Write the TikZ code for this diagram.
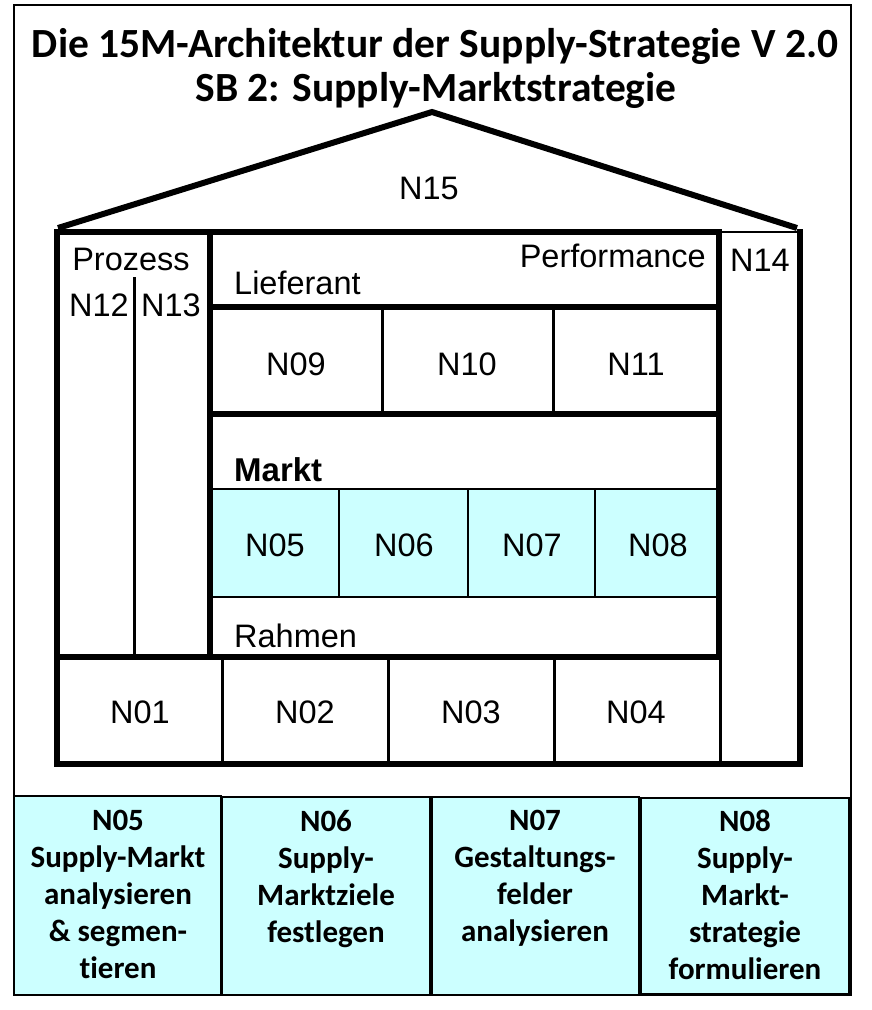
\documentclass[tikz,border=0pt]{standalone}
\usepackage{fontspec}
\setmainfont{Liberation Sans}
\newfontfamily\titlefont[Ligatures=NoCommon]{Carlito}
\definecolor{hellcyan}{HTML}{CCFFFF}
\tikzset{
    wall/.style={line width=6pt, line cap=rect},
    fuge/.style={line width=3pt},
    feinfuge/.style={line width=1.5pt},
    feld/.style={font=\fontsize{32.5}{38}\selectfont, inner sep=0pt},
    kachel/.style={draw, line width=2.5pt, fill=hellcyan},
    kacheltext/.style={font=\titlefont\bfseries\fontsize{31}{37}\selectfont, align=center, anchor=north, inner sep=0pt}
}

\begin{document}
\begin{tikzpicture}[x=1pt, y=-1pt]
    \useasboundingbox (0,0) rectangle (871,1010);
    \draw[line width=2pt] (14,5) rectangle (851,995);

    % Titel
    \node[font=\titlefont\bfseries\fontsize{41.5}{46}\selectfont, inner sep=0pt] (titel1) at (435,46) {Die 15M-Architektur der Supply-Strategie V 2.0};
    \node[font=\titlefont\bfseries\fontsize{41.5}{46}\selectfont, inner sep=0pt] (titel2) at (436,90) {SB 2: Supply-Marktstrategie};

    % Dach
    \draw[line width=6pt, line join=miter] (58,228) -- (432,112) -- (797,228);
    \node[feld] (n15) at (429,188) {N15};

    % Markt-Reihe
    \filldraw[fill=hellcyan, feinfuge] (210,489) rectangle (719,597);
    \foreach \x in {339, 468, 595}
    {
        \draw[feinfuge] (\x,489) -- (\x,597);
    }

    % Haus
    \draw[wall] (57,232) -- (57,764) -- (800,764) -- (800,232);
    \draw[wall] (57,232) -- (719,232) -- (719,657);
    \draw[line width=2pt] (719,232) -- (800,232);
    \draw[wall] (210,232) -- (210,657);
    \draw[wall] (210,307) -- (719,307);
    \draw[wall] (210,414) -- (719,414);
    \draw[wall] (57,657) -- (719,657);
    \draw[fuge] (134,277) -- (134,657);
    \draw[fuge] (720,657) -- (720,764);
    \foreach \x in {382, 553}
    {
        \draw[fuge] (\x,307) -- (\x,414);
    }
    \foreach \x in {222, 388, 554}
    {
        \draw[fuge] (\x,657) -- (\x,764);
    }

    \node[feld] (prozess) at (131,259) {Prozess};
    \node[feld] (n12) at (99,305) {N12};
    \node[feld] (n13) at (171,305) {N13};
    \node[feld, anchor=east] (performance) at (706,256) {Performance};
    \node[feld, anchor=west] (lieferant) at (234,283) {Lieferant};
    \node[feld] (n14) at (760,260) {N14};
    \node[feld] (n09) at (296,364) {N09};
    \node[feld] (n10) at (467,364) {N10};
    \node[feld] (n11) at (636,364) {N11};
    \node[feld, anchor=west, font=\bfseries\fontsize{33}{38}\selectfont] (markt) at (234,470) {Markt};
    \node[feld] (n05) at (275,545) {N05};
    \node[feld] (n06) at (404,545) {N06};
    \node[feld] (n07) at (532,545) {N07};
    \node[feld] (n08) at (658,545) {N08};
    \node[feld, anchor=west] (rahmen) at (234,636) {Rahmen};
    \node[feld] (n01) at (140,712) {N01};
    \node[feld] (n02) at (305,712) {N02};
    \node[feld] (n03) at (471,712) {N03};
    \node[feld] (n04) at (636,712) {N04};

    % Kacheln unten
    \draw[kachel] (14,796) rectangle (221,995);
    \draw[kachel] (222,797) rectangle (430,995);
    \draw[kachel] (432,797) rectangle (639,995);
    \draw[kachel] (641,798) rectangle (849,994);
    \node[kacheltext] (k05) at (118,810) {N05\\Supply-Markt\\analysieren\\\& segmen-\\tieren};
    \node[kacheltext] (k06) at (326,810) {N06\\Supply-\\Marktziele\\festlegen};
    \node[kacheltext] (k07) at (535,810) {N07\\Gestaltungs-\\felder\\analysieren};
    \node[kacheltext] (k08) at (745,810) {N08\\Supply-\\Markt-\\strategie\\formulieren};
\end{tikzpicture}
\end{document}
